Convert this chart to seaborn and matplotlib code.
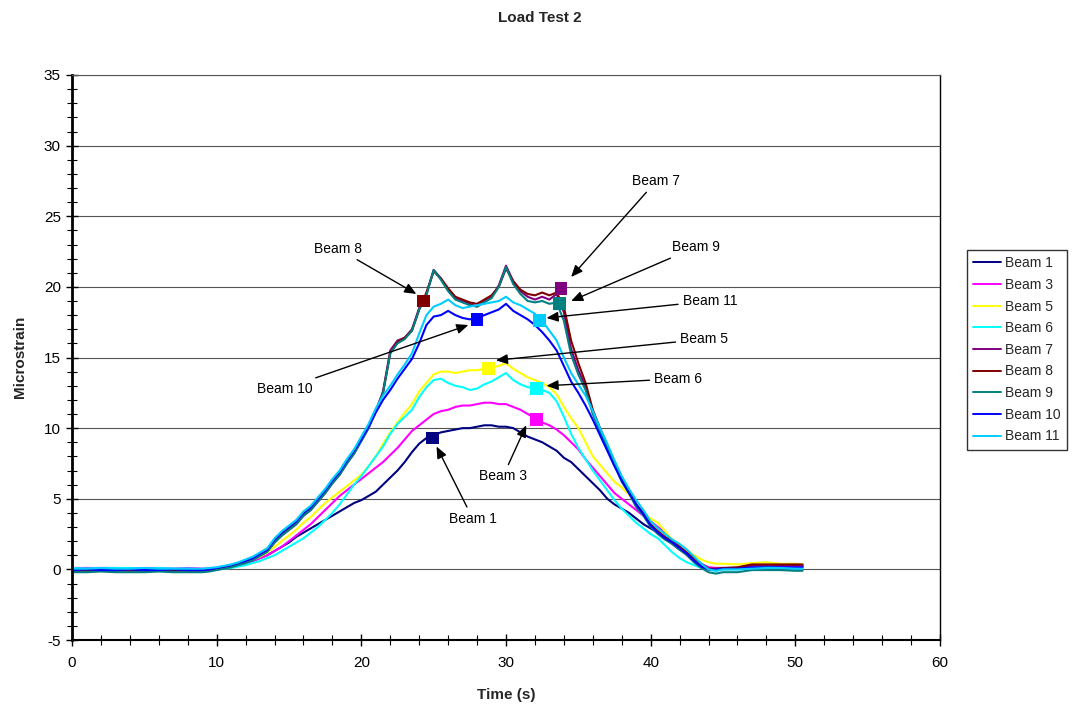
import numpy as np
import pandas as pd
import matplotlib
matplotlib.use("Agg")
import matplotlib.pyplot as plt
from matplotlib.lines import Line2D
from matplotlib.ticker import MultipleLocator
import seaborn as sns

# Sample times (s): 1 s steps before the load, 0.5 s while the truck crosses, then 1 s steps
time_s = np.concatenate([np.arange(0, 9, 1.0), np.arange(9, 45.01, 0.5), [46, 47, 48, 49, 50, 50.5]])

beam_1 = [0.0, 0.0, -0.05, 0.0, 0.0, 0.0, 0.05, 0.0, 0.0,
          0.0, 0.0, 0.05, 0.1, 0.2, 0.3, 0.45, 0.6, 0.8, 1.0,
          1.3, 1.6, 1.9, 2.3, 2.6, 2.9, 3.2, 3.5, 3.8, 4.1,
          4.4, 4.7, 4.9, 5.2, 5.5, 6.0, 6.5, 7.0, 7.6, 8.3,
          8.9, 9.3, 9.5, 9.7, 9.8, 9.9, 10.0, 10.0, 10.1, 10.2,
          10.2, 10.1, 10.1, 10.0, 9.7, 9.4, 9.2, 9.0, 8.7, 8.4,
          7.9, 7.6, 7.1, 6.6, 6.1, 5.6, 5.0, 4.6, 4.3, 4.0,
          3.6, 3.2, 2.9, 2.6, 2.2, 1.8, 1.4, 1.1, 0.7, 0.3,
          0.1, 0.1, 0.1, 0.05, 0.2, 0.2, 0.2, 0.2, 0.2]

beam_3 = [0.1, 0.1, 0.1, 0.1, 0.05, 0.1, 0.1, 0.05, 0.1,
          0.05, 0.05, 0.1, 0.15, 0.2, 0.3, 0.45, 0.6, 0.8, 1.0,
          1.3, 1.6, 2.0, 2.4, 2.8, 3.2, 3.7, 4.2, 4.7, 5.2,
          5.6, 6.0, 6.4, 6.8, 7.2, 7.6, 8.1, 8.6, 9.2, 9.8,
          10.2, 10.6, 11.0, 11.2, 11.3, 11.5, 11.6, 11.6, 11.7, 11.8,
          11.8, 11.7, 11.7, 11.5, 11.3, 11.0, 10.7, 10.4, 10.2, 9.9,
          9.5, 9.0, 8.5, 7.8, 7.2, 6.6, 6.0, 5.4, 5.0, 4.6,
          4.2, 3.8, 3.4, 3.0, 2.6, 2.1, 1.6, 1.2, 0.8, 0.4,
          0.15, 0.1, 0.1, 0.1, 0.2, 0.25, 0.2, 0.2, 0.2]

beam_5 = [0.0, 0.0, 0.0, 0.0, 0.0, 0.0, 0.0, 0.0, 0.0,
          0.0, 0.0, 0.05, 0.1, 0.2, 0.35, 0.5, 0.7, 0.9, 1.2,
          1.6, 2.0, 2.4, 2.8, 3.3, 3.7, 4.2, 4.7, 5.1, 5.5,
          5.9, 6.3, 6.7, 7.3, 8.0, 8.9, 9.7, 10.4, 11.1, 11.7,
          12.6, 13.2, 13.8, 14.0, 14.0, 13.9, 14.0, 14.1, 14.1, 14.2,
          14.3, 14.4, 14.6, 14.2, 13.9, 13.6, 13.4, 13.2, 12.9, 12.4,
          11.5, 10.7, 10.0, 9.0, 8.0, 7.4, 6.8, 6.2, 5.8, 5.3,
          4.6, 4.0, 3.6, 3.3, 2.7, 2.1, 1.8, 1.4, 1.0, 0.7,
          0.5, 0.4, 0.4, 0.35, 0.45, 0.5, 0.4, 0.4, 0.35]

beam_6 = [0.1, 0.05, 0.1, 0.1, 0.1, 0.05, 0.1, 0.05, 0.05,
          0.0, 0.0, 0.0, 0.05, 0.1, 0.2, 0.3, 0.45, 0.6, 0.8,
          1.0, 1.3, 1.6, 1.9, 2.2, 2.6, 3.0, 3.5, 4.0, 4.6,
          5.3, 6.0, 6.6, 7.3, 8.0, 8.7, 9.6, 10.3, 10.8, 11.3,
          12.2, 12.9, 13.4, 13.5, 13.2, 13.0, 12.9, 12.7, 12.8, 13.1,
          13.3, 13.6, 13.9, 13.4, 13.1, 12.9, 12.8, 12.7, 12.5, 11.9,
          10.8, 9.6, 8.6, 7.8, 7.0, 6.3, 5.6, 4.9, 4.3, 3.8,
          3.3, 2.9, 2.5, 2.2, 1.7, 1.2, 0.8, 0.5, 0.3, 0.1,
          0.0, -0.1, 0.0, 0.0, 0.1, 0.2, 0.1, 0.05, 0.1]

beam_7 = [-0.1, -0.1, -0.05, -0.1, -0.1, -0.1, -0.05, -0.1, -0.1,
          -0.1, -0.05, 0.05, 0.15, 0.25, 0.4, 0.55, 0.75, 1.0, 1.3,
          1.9, 2.4, 2.8, 3.2, 3.8, 4.2, 4.8, 5.4, 6.1, 6.7,
          7.5, 8.2, 9.1, 10.0, 11.2, 12.6, 15.5, 16.2, 16.4, 17.0,
          18.5, 19.5, 21.2, 20.6, 19.8, 19.2, 19.0, 18.8, 18.6, 19.0,
          19.3, 20.1, 21.5, 20.4, 19.7, 19.3, 19.1, 19.3, 19.1, 19.5,
          18.2, 15.6, 14.1, 12.9, 11.1, 9.9, 8.7, 7.5, 6.3, 5.5,
          4.5, 3.9, 3.1, 2.6, 2.2, 1.9, 1.5, 1.1, 0.7, 0.3,
          0.0, 0.0, 0.05, 0.1, 0.3, 0.3, 0.3, 0.3, 0.3]

beam_8 = [-0.05, -0.05, -0.05, 0.0, -0.05, -0.05, -0.05, -0.05, -0.05,
          -0.05, 0.0, 0.1, 0.2, 0.3, 0.45, 0.6, 0.8, 1.1, 1.4,
          2.0, 2.5, 2.9, 3.3, 3.9, 4.3, 4.9, 5.5, 6.2, 6.8,
          7.6, 8.3, 9.2, 10.1, 11.2, 12.5, 15.3, 16.1, 16.4, 16.9,
          18.4, 19.6, 21.1, 20.6, 19.9, 19.3, 19.1, 18.9, 18.8, 19.1,
          19.4, 20.0, 21.3, 20.4, 19.8, 19.5, 19.4, 19.6, 19.4, 19.6,
          18.6, 16.2, 14.6, 13.2, 11.3, 10.0, 8.8, 7.6, 6.4, 5.6,
          4.6, 4.0, 3.2, 2.7, 2.3, 2.0, 1.6, 1.2, 0.8, 0.4,
          0.05, 0.05, 0.1, 0.15, 0.35, 0.35, 0.35, 0.35, 0.35]

beam_9 = [-0.2, -0.2, -0.15, -0.2, -0.2, -0.2, -0.15, -0.2, -0.2,
          -0.2, -0.15, -0.05, 0.05, 0.15, 0.3, 0.45, 0.65, 0.95, 1.25,
          1.9, 2.4, 2.8, 3.2, 3.8, 4.2, 4.8, 5.4, 6.1, 6.7,
          7.5, 8.2, 9.1, 10.0, 11.2, 12.5, 15.3, 16.0, 16.3, 16.9,
          18.4, 19.4, 21.2, 20.5, 19.7, 19.1, 18.9, 18.7, 18.6, 18.9,
          19.2, 20.0, 21.4, 20.2, 19.5, 19.0, 18.9, 19.0, 18.8, 18.9,
          17.6, 15.2, 13.8, 12.7, 11.0, 9.8, 8.6, 7.4, 6.2, 5.4,
          4.4, 3.8, 3.0, 2.5, 2.1, 1.8, 1.4, 1.0, 0.5, 0.1,
          -0.2, -0.3, -0.2, -0.2, -0.05, -0.05, -0.05, -0.1, -0.1]

beam_10 = [-0.05, 0.0, -0.05, -0.05, 0.0, -0.05, -0.05, 0.0, -0.05,
           -0.05, 0.0, 0.1, 0.2, 0.3, 0.45, 0.6, 0.8, 1.1, 1.4,
           2.1, 2.6, 3.0, 3.4, 4.0, 4.4, 5.0, 5.6, 6.3, 6.9,
           7.7, 8.4, 9.2, 10.1, 11.1, 12.0, 12.7, 13.5, 14.2, 14.9,
           16.0, 17.3, 17.9, 18.0, 18.3, 18.0, 17.8, 17.7, 17.8, 18.0,
           18.2, 18.4, 18.8, 18.3, 18.0, 17.7, 17.3, 16.8, 16.2, 15.5,
           14.4, 13.3, 12.5, 11.6, 10.6, 9.5, 8.4, 7.3, 6.3, 5.4,
           4.6, 3.9, 3.1, 2.6, 2.2, 1.9, 1.5, 1.1, 0.6, 0.2,
           0.0, 0.0, 0.05, 0.05, 0.15, 0.15, 0.15, 0.15, 0.15]

beam_11 = [0.05, 0.05, 0.1, 0.05, 0.05, 0.1, 0.05, 0.05, 0.05,
           0.05, 0.1, 0.15, 0.25, 0.35, 0.5, 0.7, 0.9, 1.2, 1.5,
           2.2, 2.7, 3.1, 3.5, 4.1, 4.5, 5.1, 5.7, 6.4, 7.0,
           7.8, 8.5, 9.4, 10.3, 11.4, 12.3, 13.0, 13.8, 14.5, 15.3,
           16.7, 18.0, 18.6, 18.8, 19.1, 18.7, 18.5, 18.6, 18.7, 18.8,
           18.9, 19.0, 19.3, 18.9, 18.7, 18.4, 18.1, 17.6, 16.9, 16.2,
           15.0, 13.9, 13.1, 12.3, 11.2, 10.0, 8.9, 7.7, 6.6, 5.7,
           4.9, 4.2, 3.4, 2.9, 2.5, 2.1, 1.8, 1.4, 0.9, 0.4,
           0.0, -0.1, 0.0, 0.0, 0.05, 0.1, 0.1, 0.05, 0.05]

beam_names = ["Beam 1", "Beam 3", "Beam 5", "Beam 6", "Beam 7",
              "Beam 8", "Beam 9", "Beam 10", "Beam 11"]
beam_values = [beam_1, beam_3, beam_5, beam_6, beam_7, beam_8, beam_9, beam_10, beam_11]
beam_colors = ["#000080", "#FF00FF", "#FFFF00", "#00FFFF", "#800080",
               "#800000", "#008080", "#0000FF", "#00CCFF"]

# Highlighted reading on each trace
marker_time = [24.9, 32.1, 28.8, 32.1, 33.8, 24.3, 33.7, 28.0, 32.3]
marker_strain = [9.3, 10.6, 14.2, 12.8, 19.9, 19.0, 18.8, 17.7, 17.6]

# Callout text centre and arrow tip for each beam
callout_text = {"Beam 1": (27.7, 3.6), "Beam 3": (29.8, 6.6), "Beam 5": (43.7, 16.3),
                "Beam 6": (41.9, 13.5), "Beam 7": (40.4, 27.5), "Beam 8": (18.4, 22.7),
                "Beam 9": (43.1, 22.8), "Beam 10": (14.7, 12.8), "Beam 11": (44.1, 19.0)}
callout_tip = {"Beam 1": (25.2, 8.7), "Beam 3": (31.4, 10.2), "Beam 5": (29.3, 14.8),
               "Beam 6": (32.8, 13.0), "Beam 7": (34.5, 20.7), "Beam 8": (23.8, 19.5),
               "Beam 9": (34.5, 19.0), "Beam 10": (27.4, 17.3), "Beam 11": (32.8, 17.8)}

for vals in beam_values:
    assert len(vals) == len(time_s)

frames = [pd.DataFrame({"time": time_s, "strain": vals, "beam": name})
          for name, vals in zip(beam_names, beam_values)]
data = pd.concat(frames, ignore_index=True)
palette = dict(zip(beam_names, beam_colors))

sns.set_style("white")
plt.rcParams["font.family"] = ["Liberation Sans", "DejaVu Sans"]
plt.rcParams["axes.unicode_minus"] = False

W, H = 1079, 710
fig = plt.figure(figsize=(W / 100, H / 100), dpi=100)
ax = fig.add_axes([72 / W, 1 - 640 / H, (940 - 72) / W, (640 - 75) / H])

sns.lineplot(data=data, x="time", y="strain", hue="beam", hue_order=beam_names,
             palette=palette, estimator=None, sort=False, linewidth=1.5,
             legend=False, ax=ax)

sns.scatterplot(x=marker_time, y=marker_strain, hue=beam_names, hue_order=beam_names,
                palette=palette, marker="s", s=85, linewidth=0, legend=False,
                ax=ax, zorder=5)

for name in beam_names:
    ax.annotate(name, xy=callout_tip[name], xytext=callout_text[name],
                ha="center", va="center", fontsize=10, color="black",
                arrowprops=dict(arrowstyle="-|>,head_length=0.7,head_width=0.3",
                                color="black", lw=1.0, shrinkA=1, shrinkB=0),
                zorder=6)

ax.set_xlim(0, 60)
ax.set_ylim(-5, 35)
ax.xaxis.set_major_locator(MultipleLocator(10))
ax.xaxis.set_minor_locator(MultipleLocator(2))
ax.yaxis.set_major_locator(MultipleLocator(5))
ax.yaxis.set_minor_locator(MultipleLocator(1))
ax.tick_params(axis="both", which="major", direction="inout", length=9, width=1.0,
               color="black", labelsize=11, labelcolor="black")
ax.tick_params(axis="both", which="minor", direction="inout", length=7, width=0.8,
               color="black")
ax.tick_params(axis="x", which="major", pad=7)
ax.tick_params(axis="y", which="major", pad=3.5)
ax.tick_params(axis="both", which="both", bottom=True, left=True, top=False, right=False)

ax.yaxis.grid(True, which="major", color="#555555", linewidth=0.8)
ax.xaxis.grid(False)
ax.set_axisbelow(True)
ax.set_xlabel("")
ax.set_ylabel("")

ax.spines["left"].set_linewidth(2.0)
ax.spines["left"].set_color("black")
ax.spines["bottom"].set_linewidth(1.5)
ax.spines["bottom"].set_color("black")
ax.spines["right"].set_linewidth(1.0)
ax.spines["right"].set_color("black")
ax.spines["top"].set_linewidth(0.8)
ax.spines["top"].set_color("#555555")

fig.text(540 / W, 1 - 18 / H, "Load Test 2", ha="center", va="center",
         fontsize=11, fontweight="bold")
fig.text(506 / W, 1 - 695 / H, "Time (s)", ha="center", va="center",
         fontsize=11, fontweight="bold")
fig.text(20 / W, 1 - 357 / H, "Microstrain", ha="center", va="center",
         rotation=90, fontsize=11, fontweight="bold")

handles = [Line2D([0], [0], color=c, lw=1.4) for c in beam_colors]
leg = fig.legend(handles, beam_names, loc="upper left",
                 bbox_to_anchor=(967 / W, 1 - 250 / H), bbox_transform=fig.transFigure,
                 fontsize=10, frameon=True, fancybox=False, edgecolor="black",
                 borderaxespad=0, borderpad=0.45, labelspacing=0.55,
                 handlelength=2.0, handletextpad=0.3)
leg.get_frame().set_linewidth(1.0)

fig.savefig("out.png", dpi=100)
